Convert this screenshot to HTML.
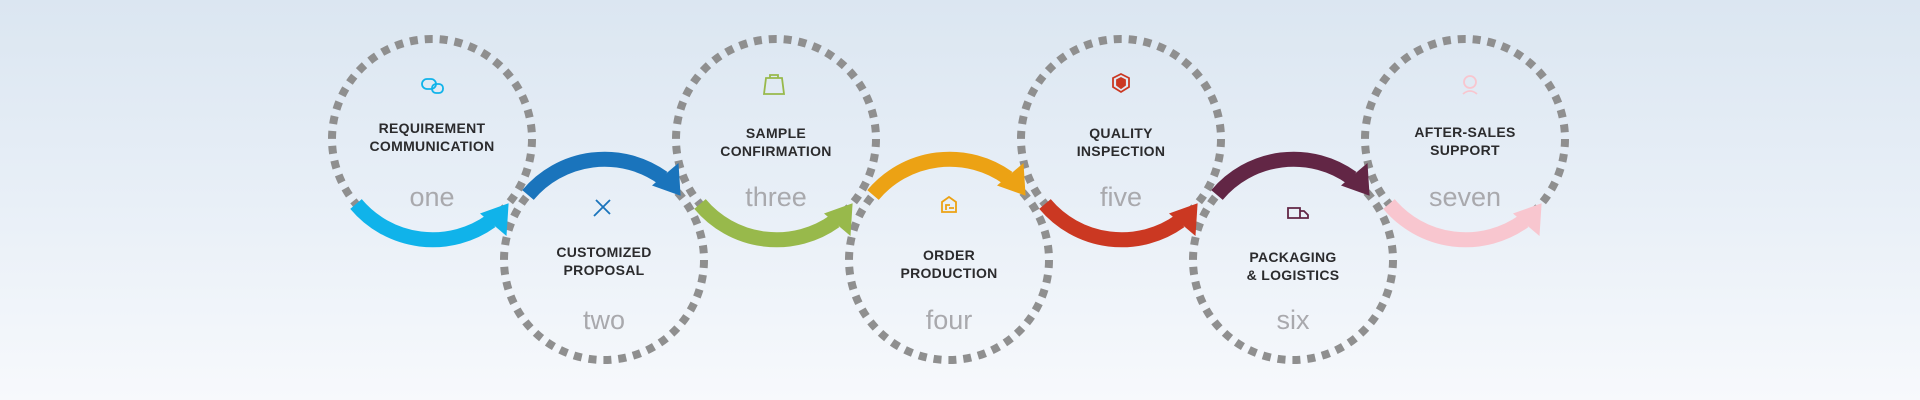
<!DOCTYPE html>
<html><head><meta charset="utf-8"><style>
html,body{margin:0;padding:0}
body{width:1920px;height:400px;overflow:hidden;background:linear-gradient(180deg,#dbe6f1 0%,#e8eff7 50%,#f7f9fc 100%);font-family:"Liberation Sans",sans-serif}
svg{position:absolute;left:0;top:0}
</style></head><body>
<svg width="1920" height="400" viewBox="0 0 1920 400">
<defs>
<g id="arr">
<path d="M -76 65 A 100 100 0 0 0 59 82" fill="none" stroke-width="15"/>
<polygon points="76.6,64.3 74.5,97 48,74.5" stroke="none"/>
</g>
</defs>
<g fill="none" stroke="#8f8f8f" stroke-width="8" stroke-dasharray="8 6.96">
<circle cx="432" cy="139" r="100"/>
<circle cx="604" cy="260" r="100"/>
<circle cx="776" cy="139" r="100"/>
<circle cx="949" cy="260" r="100"/>
<circle cx="1121" cy="139" r="100"/>
<circle cx="1293" cy="260" r="100"/>
<circle cx="1465" cy="139" r="100"/>
</g>
<g transform="translate(432,139)" fill="#10b3ea" stroke="#10b3ea"><use href="#arr"/></g>
<g transform="translate(604,260) scale(1,-1)" fill="#1a74bc" stroke="#1a74bc"><use href="#arr"/></g>
<g transform="translate(776,139)" fill="#98b94b" stroke="#98b94b"><use href="#arr"/></g>
<g transform="translate(949,260) scale(1,-1)" fill="#eca214" stroke="#eca214"><use href="#arr"/></g>
<g transform="translate(1121,139)" fill="#cb3822" stroke="#cb3822"><use href="#arr"/></g>
<g transform="translate(1293,260) scale(1,-1)" fill="#622645" stroke="#622645"><use href="#arr"/></g>
<g transform="translate(1465,139)" fill="#f8c6cf" stroke="#f8c6cf"><use href="#arr"/></g>
<g fill="none" stroke-width="1.8">
<g stroke="#10b3ea"><rect x="422" y="79" width="14" height="10" rx="5"/><rect x="432" y="84" width="11" height="9" rx="4"/></g>
<g stroke="#1a74bc"><path d="M596 200 l14 14 M610 200 l-14 14 M594 216 l4 -4"/></g>
<g stroke="#98b94b"><path d="M766 78 h16 l2 16 h-20 z M770 78 v-3 h8 v3"/></g>
<g stroke="#eca214"><path d="M942 212 v-10 l7 -5 l7 5 v10 z M946 210 v-5 h4 M954 208 h-5"/></g>
<g stroke="#cb3822"><path d="M1121 74 l8 4 v9 l-8 5 l-8 -5 v-9 z"/><path d="M1121 78 l4 2 v5 l-4 3 l-4 -3 v-5 z" fill="#cb3822"/></g>
<g stroke="#622645"><path d="M1288 208 h12 v10 h-12 z M1300 211 h4 l4 4 v3 h-8"/></g>
<g stroke="#f8c6cf"><circle cx="1470" cy="82" r="6"/><path d="M1463 94 q7 -6 14 0"/></g>
</g>
<g font-family="Liberation Sans, sans-serif" font-weight="bold" font-size="14" fill="#2b2b2d" text-anchor="middle" letter-spacing="0.3">
<text x="432" y="133">REQUIREMENT</text><text x="432" y="151">COMMUNICATION</text>
<text x="604" y="257">CUSTOMIZED</text><text x="604" y="275">PROPOSAL</text>
<text x="776" y="138">SAMPLE</text><text x="776" y="156">CONFIRMATION</text>
<text x="949" y="260">ORDER</text><text x="949" y="278">PRODUCTION</text>
<text x="1121" y="138">QUALITY</text><text x="1121" y="156">INSPECTION</text>
<text x="1293" y="262">PACKAGING</text><text x="1293" y="280">&amp; LOGISTICS</text>
<text x="1465" y="137">AFTER-SALES</text><text x="1465" y="155">SUPPORT</text>
</g>
<g font-family="Liberation Sans, sans-serif" font-size="27" fill="#a9a9ad" text-anchor="middle">
<text x="432" y="206">one</text>
<text x="604" y="329">two</text>
<text x="776" y="206">three</text>
<text x="949" y="329">four</text>
<text x="1121" y="206">five</text>
<text x="1293" y="329">six</text>
<text x="1465" y="206">seven</text>
</g>
</svg>
</body></html>
